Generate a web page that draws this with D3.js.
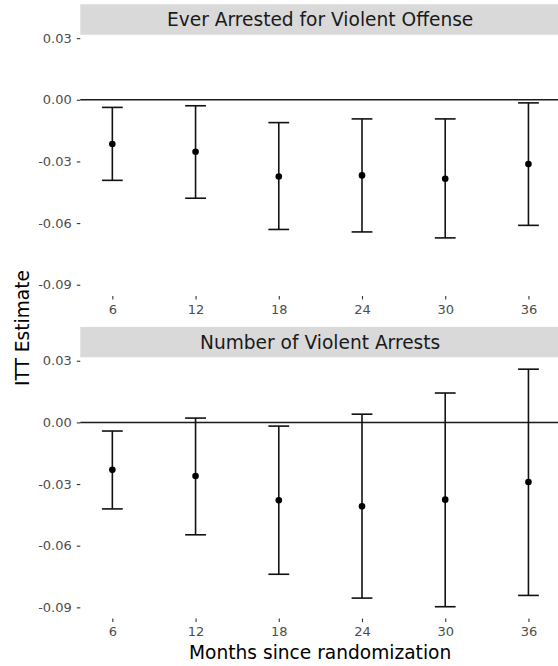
<!DOCTYPE html>
<html>
<head>
<meta charset="utf-8">
<script src="https://cdn.jsdelivr.net/npm/d3@7"></script>
<style>
  body { margin: 0; background: #fff; }
  text { font-family: "DejaVu Sans", sans-serif; }
</style>
</head>
<body>
<div id="chart"></div>
<script>
// months since randomization
var months = [6, 12, 18, 24, 30, 36];

// panel titles
var panels = ["Ever Arrested for Violent Offense", "Number of Violent Arrests"];

// ITT estimates and CI bounds
var everEst = [-0.0215, -0.0253, -0.0373, -0.0368, -0.0384, -0.0313];
var everLow = [-0.0392, -0.0479, -0.0631, -0.0643, -0.0672, -0.0611];
var everHigh = [-0.0037, -0.0029, -0.0111, -0.0093, -0.0093, -0.0015];

var numEst = [-0.0231, -0.0261, -0.0379, -0.0408, -0.0376, -0.0290];
var numLow = [-0.0421, -0.0547, -0.0739, -0.0855, -0.0897, -0.0842];
var numHigh = [-0.0042, 0.0021, -0.0018, 0.0040, 0.0143, 0.0259];

var yTicks = [0.03, 0.00, -0.03, -0.06, -0.09];

var svgWidth = 558;
var svgHeight = 666;

var margin = { left: 80.3, right: 0 };
var panelTop = [34.7, 357.3];
var panelHeight = 261.3;
var stripHeight = 30.4;

var svg = d3.select("#chart")
    .append("svg")
    .attr("width", svgWidth)
    .attr("height", svgHeight);

// x scale shared, with room for the caps on both sides
var xScale = d3.scaleLinear()
    .domain([6 - 2.31, 36 + 2.31])
    .range([margin.left, margin.left + 34.62 * 13.87]);

// y scale shared across both panels (ggplot-ish 5% expansion)
var allLow = d3.min(everLow.concat(numLow));
var allHigh = d3.max(everHigh.concat(numHigh));
var pad = (allHigh - allLow) * 0.05;

var sets = [
    { est: everEst, low: everLow, high: everHigh },
    { est: numEst, low: numLow, high: numHigh }
];

sets.forEach(function (s, i) {
    var top = panelTop[i];
    var yScale = d3.scaleLinear()
        .domain([allLow - pad, allHigh + pad])
        .range([top + panelHeight, top]);

    var g = svg.append("g");

    // strip
    g.append("rect")
        .attr("x", margin.left)
        .attr("y", top - stripHeight)
        .attr("width", svgWidth - margin.left)
        .attr("height", stripHeight)
        .attr("fill", "#d9d9d9");

    g.append("text")
        .attr("x", margin.left + (svgWidth - margin.left) / 2 + 1)
        .attr("y", top - stripHeight / 2)
        .attr("dy", "0.36em")
        .attr("text-anchor", "middle")
        .style("font-size", "18.6px")
        .attr("fill", "#1a1a1a")
        .text(panels[i]);

    // y axis
    var leftAxis = d3.axisLeft(yScale)
        .tickValues(yTicks)
        .tickFormat(d3.format(".2f"))
        .tickSize(3.5)
        .tickPadding(5);

    var ya = g.append("g")
        .attr("transform", `translate(${margin.left}, 0)`)
        .call(leftAxis);
    ya.select(".domain").remove();
    ya.selectAll("line").attr("stroke", "#333").attr("stroke-width", 1.1);
    ya.selectAll("text")
        .style("font-size", "13px")
        .style("font-family", "DejaVu Sans")
        .attr("fill", "#4d4d4d")
        .text(d => d3.format(".2f")(d).replace("−", "-"));

    // x axis
    var bottomAxis = d3.axisBottom(xScale)
        .tickValues(months)
        .tickSize(3.5)
        .tickPadding(5);

    var xa = g.append("g")
        .attr("transform", `translate(0, ${top + panelHeight})`)
        .call(bottomAxis);
    xa.select(".domain").remove();
    xa.selectAll("line").attr("stroke", "#333").attr("stroke-width", 1.1);
    xa.selectAll("text")
        .style("font-size", "13px")
        .style("font-family", "DejaVu Sans")
        .attr("fill", "#4d4d4d");

    // zero line
    g.append("line")
        .attr("x1", margin.left)
        .attr("x2", svgWidth)
        .attr("y1", yScale(0))
        .attr("y2", yScale(0))
        .attr("stroke", "#1a1a1a")
        .attr("stroke-width", 1.5);

    // error bars
    var capHalf = 0.75;
    var bars = g.append("g").selectAll("g")
        .data(months)
        .enter()
        .append("g");

    bars.append("line")
        .attr("x1", d => xScale(d))
        .attr("x2", d => xScale(d))
        .attr("y1", (d, j) => yScale(s.low[j]))
        .attr("y2", (d, j) => yScale(s.high[j]))
        .attr("stroke", "#111")
        .attr("stroke-width", 1.6);

    bars.append("line")
        .attr("x1", d => xScale(d - capHalf))
        .attr("x2", d => xScale(d + capHalf))
        .attr("y1", (d, j) => yScale(s.low[j]))
        .attr("y2", (d, j) => yScale(s.low[j]))
        .attr("stroke", "#111")
        .attr("stroke-width", 1.6);

    bars.append("line")
        .attr("x1", d => xScale(d - capHalf))
        .attr("x2", d => xScale(d + capHalf))
        .attr("y1", (d, j) => yScale(s.high[j]))
        .attr("y2", (d, j) => yScale(s.high[j]))
        .attr("stroke", "#111")
        .attr("stroke-width", 1.6);

    bars.append("circle")
        .attr("cx", d => xScale(d))
        .attr("cy", (d, j) => yScale(s.est[j]))
        .attr("r", 3.3)
        .attr("fill", "#000");
});

// axis titles
svg.append("text")
    .attr("x", (margin.left + svgWidth) / 2 + 1)
    .attr("y", 658.5)
    .attr("text-anchor", "middle")
    .style("font-size", "18.6px")
    .attr("fill", "#000")
    .text("Months since randomization");

svg.append("text")
    .attr("transform", `translate(28.5, 328) rotate(-90)`)
    .attr("text-anchor", "middle")
    .style("font-size", "18.6px")
    .attr("fill", "#000")
    .text("ITT Estimate");
</script>
</body>
</html>
